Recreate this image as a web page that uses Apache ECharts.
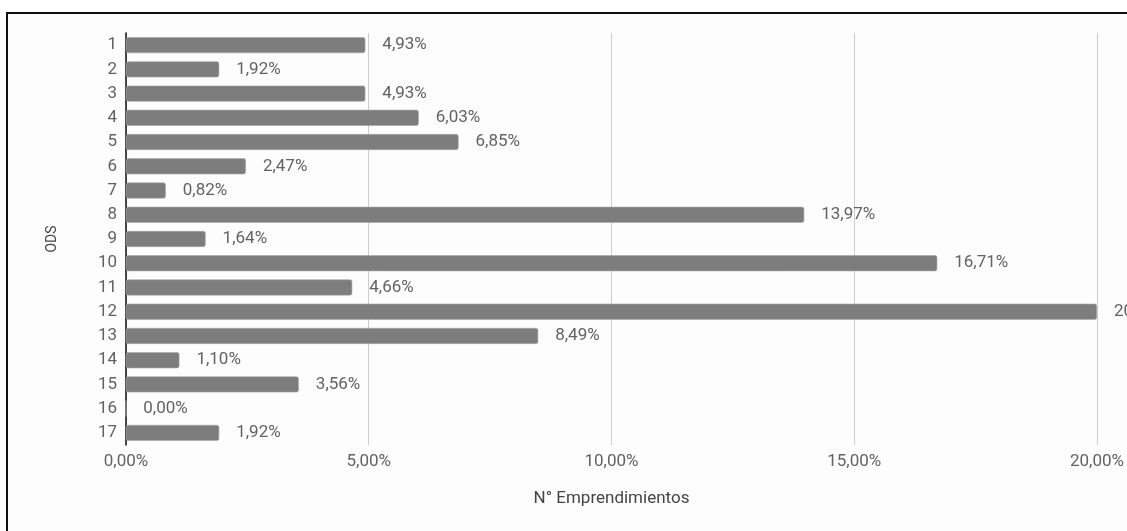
<!DOCTYPE html>
<html>
<head>
<meta charset="utf-8">
<script src="https://cdn.jsdelivr.net/npm/echarts@6/dist/echarts.min.js"></script>
<style>
  html, body { margin: 0; padding: 0; background: #ffffff; }
  #frame {
    position: absolute; left: 6px; top: 12px; width: 1200px; height: 600px;
    border-left: 2px solid #111; border-top: 2px solid #111; background: #fdfdfd;
  }
  #chart { position: absolute; left: 0; top: 0; width: 1127px; height: 531px; }
</style>
</head>
<body>
<div id="frame"></div>
<div id="chart"></div>
<script>
// ODS categories and share of ventures (%) per goal
const categories = ['1','2','3','4','5','6','7','8','9','10','11','12','13','14','15','16','17'];
const shares = [4.93, 1.92, 4.93, 6.03, 6.85, 2.47, 0.82, 13.97, 1.64, 16.71, 4.66, 20.00, 8.49, 1.10, 3.56, 0.00, 1.92];
const xTicks = [0, 5, 10, 15, 20];

const pct = v => Number(v).toFixed(2).replace('.', ',') + '%';
const FONT = 'Roboto';

const chart = echarts.init(document.getElementById('chart'), null, { renderer: 'canvas' });
chart.setOption({
  animation: false,
  textStyle: { fontFamily: FONT },
  grid: { left: 126, right: 25, top: 33, bottom: 86, containLabel: false },
  xAxis: {
    type: 'value',
    min: xTicks[0], max: xTicks[xTicks.length - 1], interval: 5,
    axisLine: { show: false },
    axisTick: { show: false },
    splitLine: { lineStyle: { color: '#cccccc', width: 1 } },
    axisLabel: { formatter: pct, color: '#626262', fontSize: 17, margin: 8, fontFamily: FONT },
    name: 'N° Emprendimientos',
    nameLocation: 'middle', nameGap: 45,
    nameTextStyle: { color: '#444444', fontSize: 17, fontFamily: FONT }
  },
  yAxis: {
    type: 'category',
    data: categories,
    inverse: true,
    axisLine: { show: true, lineStyle: { color: '#111111', width: 1.5 } },
    axisTick: { show: false },
    axisLabel: { color: '#626262', fontSize: 17, margin: 9, fontFamily: FONT },
    name: 'ODS',
    nameLocation: 'middle', nameGap: 67, nameRotate: 90,
    nameTextStyle: { color: '#444444', fontSize: 14, fontFamily: FONT }
  },
  series: [{
    type: 'bar',
    data: shares,
    barWidth: 16,
    itemStyle: { color: '#7d7d7d', borderRadius: 2, borderColor: '#a8a8a8', borderWidth: 0.6 },
    label: {
      show: true, position: 'right', distance: 17,
      formatter: p => pct(p.value),
      color: '#626262', fontSize: 17, fontFamily: FONT
    }
  }]
});
</script>
</body>
</html>
